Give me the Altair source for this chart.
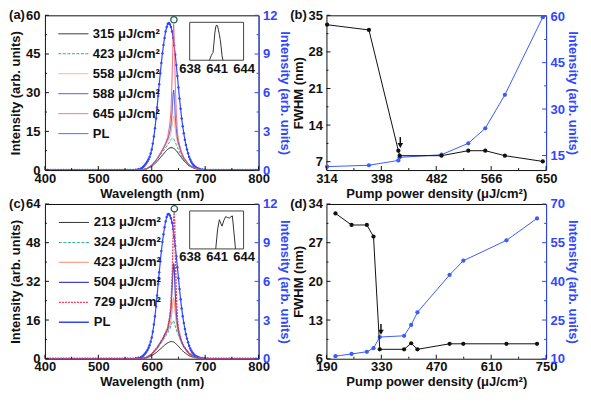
import altair as alt
import pandas as pd

FONT = "Liberation Sans"
BLUE = "#2e47ff"
BLUE_LINE = "#3d5cff"
BLACK = "#111111"

# ---------------- data: spectra (panels a, c) ----------------
WL = [400, 560, 580, 590, 600, 610, 620, 625, 630, 634, 636, 638, 639, 640, 641, 642,
      643, 644, 646, 648, 650, 655, 660, 670, 680, 690, 700, 720, 800]

A_NAMES = ["315 μJ/cm²", "423 μJ/cm²", "558 μJ/cm²", "588 μJ/cm²", "645 μJ/cm²", "PL"]
A_315 = [0, 0, 0.05, 0.4, 1.4, 3.3, 5.8, 7.0, 8.1, 8.6, 8.7, 8.65, 8.6, 8.5, 8.4, 8.3,
         8.1, 7.9, 7.5, 7.0, 6.4, 5.0, 3.6, 1.6, 0.6, 0.2, 0.05, 0, 0]
A_423 = [0, 0, 0.05, 0.5, 1.7, 4.0, 7.0, 8.4, 9.8, 11.0, 11.8, 12.3, 12.4, 12.3, 12.2, 11.8,
         11.3, 10.8, 9.8, 8.8, 7.8, 5.8, 4.0, 1.8, 0.7, 0.2, 0.05, 0, 0]
A_558 = [0, 0, 0.05, 0.5, 1.8, 4.2, 7.5, 9.2, 11.0, 13.0, 14.5, 17.0, 18.5, 20.0, 21.0, 20.0,
         18.0, 16.0, 13.0, 11.0, 9.5, 6.5, 4.3, 1.9, 0.7, 0.2, 0.05, 0, 0]
A_588 = [0, 0, 0.05, 0.5, 1.8, 4.3, 7.8, 9.8, 12.0, 15.0, 17.5, 22.0, 26.0, 29.5, 31.0, 29.0,
         25.0, 21.0, 16.0, 12.5, 10.5, 7.0, 4.6, 2.0, 0.7, 0.2, 0.05, 0, 0]
A_645 = [0, 0, 0.05, 0.5, 2.0, 4.5, 8.0, 10.0, 13.0, 18.0, 23.0, 35.0, 43.0, 52.0, 56.5, 52.0,
         43.0, 34.0, 22.0, 15.0, 11.5, 7.5, 5.0, 2.1, 0.8, 0.2, 0.05, 0, 0]

C_NAMES = ["213 μJ/cm²", "324 μJ/cm²", "423 μJ/cm²", "504 μJ/cm²", "729 μJ/cm²", "PL"]
C_213 = [0, 0, 0.05, 0.35, 1.2, 2.8, 4.8, 5.8, 6.6, 7.0, 7.1, 7.1, 7.05, 7.0, 6.9, 6.8,
         6.6, 6.4, 6.0, 5.6, 5.1, 3.9, 2.8, 1.2, 0.45, 0.15, 0.03, 0, 0]
C_324 = [0, 0, 0.05, 0.5, 1.8, 4.2, 7.3, 9.0, 10.8, 12.5, 13.5, 15.0, 15.5, 15.7, 15.5, 15.0,
         14.2, 13.4, 12.0, 10.8, 9.6, 7.0, 4.8, 2.0, 0.7, 0.2, 0.05, 0, 0]
C_423 = [0, 0, 0.05, 0.5, 1.8, 4.3, 7.6, 9.5, 11.5, 14.0, 16.0, 20.0, 22.5, 24.5, 25.0, 24.0,
         21.5, 19.0, 15.0, 12.5, 10.5, 7.2, 4.8, 2.0, 0.7, 0.2, 0.05, 0, 0]
C_504 = [0, 0, 0.05, 0.5, 1.9, 4.5, 8.0, 10.2, 12.5, 17.0, 21.0, 29.0, 34.0, 38.0, 39.5, 38.0,
         33.0, 27.0, 19.0, 14.5, 11.5, 7.5, 5.0, 2.1, 0.8, 0.2, 0.05, 0, 0]
C_729 = [0, 0, 0.05, 0.5, 2.0, 4.6, 8.2, 10.4, 13.0, 18.0, 23.0, 33.0, 41.0, 50.0, 58.0, 61.0,
         56.0, 45.0, 27.0, 17.0, 12.5, 7.8, 5.2, 2.2, 0.8, 0.2, 0.05, 0, 0]

PL_WL = list(range(400, 580, 5)) + list(range(580, 692, 2)) + list(range(695, 805, 5))
PL_A = [0, 0, 0, 0, 0, 0, 0, 0, 0, 0, 0, 0, 0, 0, 0, 0, 0, 0, 0, 0,
        0, 0, 0, 0, 0, 0, 0, 0, 0, 0, 0, 0, 0, 0, 0.03, 0.07,
        0.12, 0.17, 0.25, 0.34, 0.44, 0.55, 0.68, 0.84, 1.02, 1.28,
        1.60, 2.05, 2.60, 3.25, 4.00, 4.85, 5.75, 6.65, 7.50, 8.30,
        9.05, 9.70, 10.25, 10.75, 11.10, 11.35, 11.40, 11.30, 11.10, 10.75,
        10.25, 9.65, 8.95, 8.15, 7.30, 6.40, 5.55, 4.75, 4.00, 3.40,
        2.85, 2.35, 1.95, 1.60, 1.30, 1.02, 0.82, 0.65, 0.50, 0.39,
        0.30, 0.23, 0.17, 0.13, 0.10, 0.08,
        0.05, 0.03, 0.01, 0, 0, 0, 0, 0, 0, 0, 0, 0, 0, 0, 0, 0, 0, 0, 0, 0, 0, 0]
PL_C = [0, 0, 0, 0, 0, 0, 0, 0, 0, 0, 0, 0, 0, 0, 0, 0, 0, 0, 0, 0,
        0, 0, 0, 0, 0, 0, 0, 0, 0, 0, 0, 0, 0, 0, 0.03, 0.07,
        0.12, 0.17, 0.24, 0.33, 0.43, 0.55, 0.68, 0.85, 1.05, 1.32,
        1.65, 2.10, 2.65, 3.30, 4.05, 4.90, 5.80, 6.70, 7.55, 8.35,
        9.05, 9.65, 10.20, 10.65, 11.00, 11.20, 11.22, 11.10, 10.90, 10.55,
        10.05, 9.45, 8.75, 7.95, 7.10, 6.25, 5.40, 4.62, 3.90, 3.30,
        2.78, 2.30, 1.90, 1.56, 1.27, 1.00, 0.80, 0.63, 0.49, 0.38,
        0.29, 0.22, 0.17, 0.13, 0.10, 0.08,
        0.05, 0.03, 0.01, 0, 0, 0, 0, 0, 0, 0, 0, 0, 0, 0, 0, 0, 0, 0, 0, 0, 0, 0]

# circle marker above the lasing peak
A_CIRC_X, A_CIRC_Y = [641.5], [58.3]
C_CIRC_X, C_CIRC_Y = [642.3], [62.0]

# insets (normalised intensity)
INSET_TICKS = [638, 641, 644]
A_INSET_X = [640.2, 640.4, 640.5, 640.6, 640.7, 640.8, 640.9, 641.0, 641.1, 641.2, 641.3, 641.4, 641.5, 641.6, 641.7]
A_INSET_Y = [0.0, 0.12, 0.17, 0.2, 0.45, 0.72, 0.88, 0.93, 0.9, 0.8, 0.68, 0.55, 0.35, 0.12, 0.0]
C_INSET_X = [640.9, 641.1, 641.3, 641.45, 641.6, 641.8, 642.0, 642.2, 642.4, 642.6, 642.75, 642.9, 643.1]
C_INSET_Y = [0.0, 0.5, 0.77, 0.68, 0.6, 0.75, 0.85, 0.83, 0.81, 0.85, 0.87, 0.5, 0.0]

# ---------------- data: pump dependence (panels b, d) ----------------
B_PUMP = [315, 379, 424, 426, 490, 531, 557, 587, 645]
B_FWHM = [33.2, 32.2, 9.1, 8.15, 8.15, 9.1, 9.1, 8.15, 7.05]
B_INT = [11.4, 11.85, 13.4, 14.4, 15.25, 18.95, 23.8, 34.6, 59.7]
B_ARROW_X, B_ARROW_TOP, B_ARROW_HEAD = [427], [11.7], [10.1]

D_PUMP = [213, 254, 293, 310, 326, 388, 406, 422, 504, 539, 649, 727]
D_FWHM = [32.3, 30.2, 30.2, 28.1, 7.7, 7.7, 8.8, 7.7, 8.7, 8.7, 8.7, 8.7]
D_INT = [11.0, 11.85, 12.7, 14.1, 18.4, 18.9, 23.1, 28.0, 42.5, 48.0, 55.9, 64.4]
D_ARROW_X, D_ARROW_TOP, D_ARROW_HEAD = [329], [12.3], [10.8]

# ---------------- layout ----------------
W1, W2, H = 214, 220, 155
IX0, IX1, IY0, IY1 = 145, 199, 7, 45


def xticks(values, scale, length, color=BLACK):
    return alt.Chart(pd.DataFrame({"v": values})).mark_rule(color=color, strokeWidth=1).encode(
        x=alt.X("v:Q", scale=scale, axis=None), y=alt.value(H), y2=alt.value(H - length))


def yticks(values, scale, x0, x1, color=BLACK):
    return alt.Chart(pd.DataFrame({"v": values})).mark_rule(color=color, strokeWidth=1).encode(
        y=alt.Y("v:Q", scale=scale, axis=None), x=alt.value(x0), x2=alt.value(x1))


def tag_layer(tag):
    return alt.Chart(pd.DataFrame({"t": [tag]})).mark_text(
        font=FONT, fontSize=13, fontWeight="bold", color=BLACK, align="center", baseline="middle"
    ).encode(text="t:N", x=alt.value(-28), y=alt.value(0))


def right_axis(values, title):
    return alt.Axis(orient="right", values=values, title=title, labelColor=BLUE, titleColor=BLUE,
                    domain=True, domainColor=BLUE, domainWidth=1, labelPadding=4, titlePadding=1)


def spectral_panel(tag, field, names, colors, widths, dashes, spectra, pl, ymax, ymaj, ymin,
                   cx, cy, ins_x, ins_y, W):
    xs = alt.Scale(domain=[400, 800], nice=False, zero=False)
    yl = alt.Scale(domain=[0, ymax], nice=False, zero=False)
    yr = alt.Scale(domain=[0, 12], nice=False, zero=False)
    rows = []
    for name, vals in zip(names[:-1], spectra):
        for w, v in zip(WL, vals):
            rows.append({"wl": w, "I": v, field: name})
    df = pd.DataFrame(rows)
    pl_df = pd.DataFrame({"wl": PL_WL, "I": pl, field: "PL"})
    cs = alt.Scale(domain=names, range=colors)
    sw = alt.Scale(domain=names, range=widths)
    sd = alt.Scale(domain=names, range=dashes)
    legend = alt.Legend(orient="none", legendX=13, legendY=12, title=None, symbolType="stroke",
                        symbolSize=900, clipHeight=13, rowPadding=6, labelOffset=4, padding=0,
                        symbolOpacity=1, symbolStrokeWidth=1.6, labelFont=FONT, labelFontSize=13,
                        labelFontWeight="bold", labelColor=BLACK)
    spectra_layer = alt.Chart(df).mark_line(clip=True, opacity=1).encode(
        x=alt.X("wl:Q", scale=xs, axis=alt.Axis(values=[400, 500, 600, 700, 800], title="Wavelength (nm)",
                                                orient="bottom", labelPadding=2, titlePadding=2)),
        y=alt.Y("I:Q", scale=yl, axis=alt.Axis(values=ymaj, title="Intensity (arb. units)", orient="left",
                                               labelPadding=5, titlePadding=3)),
        color=alt.Color(f"{field}:N", scale=cs, legend=legend),
        strokeWidth=alt.StrokeWidth(f"{field}:N", scale=sw, legend=None),
        strokeDash=alt.StrokeDash(f"{field}:N", scale=sd, legend=None),
    )
    pl_line = alt.Chart(pl_df).mark_line(clip=True, strokeWidth=1.2, opacity=1).encode(
        x=alt.X("wl:Q", scale=xs, axis=None),
        y=alt.Y("I:Q", scale=yr, axis=right_axis([0, 3, 6, 9, 12], "Intensity (arb. units)")),
        color=alt.Color(f"{field}:N", scale=cs, legend=legend),
    )
    pl_pts = alt.Chart(pl_df).mark_circle(size=6, color=BLUE, opacity=1, clip=True).encode(
        x=alt.X("wl:Q", scale=xs, axis=None), y=alt.Y("I:Q", scale=yr, axis=None))
    circ = alt.Chart(pd.DataFrame({"x": cx, "y": cy})).mark_point(
        shape="circle", filled=False, size=40, color="#1f5e55", strokeWidth=1.3, opacity=1).encode(
        x=alt.X("x:Q", scale=xs, axis=None), y=alt.Y("y:Q", scale=yl, axis=None))
    ixs = alt.Scale(domain=[638, 644], range=[IX0, IX1], nice=False, zero=False)
    iys = alt.Scale(domain=[0, 1], range=[IY1, IY0], nice=False, zero=False)
    box = alt.Chart(pd.DataFrame({"x": [638], "x2": [644], "y": [0], "y2": [1]})).mark_rect(
        fill="white", stroke="#444444", strokeWidth=1).encode(
        x=alt.X("x:Q", scale=ixs, axis=None), x2="x2:Q",
        y=alt.Y("y:Q", scale=iys, axis=None), y2="y2:Q")
    inset = alt.Chart(pd.DataFrame({"x": ins_x, "y": ins_y})).mark_line(color="#333333", strokeWidth=1).encode(
        x=alt.X("x:Q", scale=ixs, axis=alt.Axis(orient="bottom", values=INSET_TICKS, offset=-(H - IY1),
                                                labelPadding=2, title=None, domain=False, ticks=False)),
        y=alt.Y("y:Q", scale=iys, axis=None))
    ticks = [
        xticks([400, 500, 600, 700, 800], xs, 4), xticks([450, 550, 650, 750], xs, 2),
        yticks(ymaj, yl, 0, 4), yticks(ymin, yl, 0, 2),
        yticks([0, 3, 6, 9, 12], yr, W, W - 4, BLUE), yticks([1.5, 4.5, 7.5, 10.5], yr, W, W - 2, BLUE),
    ]
    return alt.layer(pl_line, pl_pts, spectra_layer, circ, box, inset, tag_layer(tag), *ticks).resolve_scale(
        x="independent", y="independent").properties(width=W, height=H)


def pump_panel(tag, xdom, xmaj, xmin, pump, fwhm, inten, yl_dom, yl_maj, yl_min, yr_dom, yr_maj, yr_min,
               ax, atop, ahead, W):
    xs = alt.Scale(domain=xdom, nice=False, zero=False)
    yl = alt.Scale(domain=yl_dom, nice=False, zero=False)
    yr = alt.Scale(domain=yr_dom, nice=False, zero=False)
    df = pd.DataFrame({"p": pump, "f": fwhm, "i": inten})
    f_line = alt.Chart(df).mark_line(color=BLACK, strokeWidth=1).encode(
        x=alt.X("p:Q", scale=xs, axis=alt.Axis(values=xmaj, title="Pump power density (μJ/cm²)",
                                               orient="bottom", labelPadding=2, titlePadding=2)),
        y=alt.Y("f:Q", scale=yl, axis=alt.Axis(values=yl_maj, title="FWHM (nm)", orient="left",
                                               labelPadding=4, titlePadding=3)))
    f_pts = alt.Chart(df).mark_circle(size=18, color=BLACK, opacity=1).encode(
        x=alt.X("p:Q", scale=xs, axis=None), y=alt.Y("f:Q", scale=yl, axis=None))
    i_line = alt.Chart(df).mark_line(color=BLUE_LINE, strokeWidth=1).encode(
        x=alt.X("p:Q", scale=xs, axis=None),
        y=alt.Y("i:Q", scale=yr, axis=right_axis(yr_maj, "Intensity (arb. units)")))
    i_pts = alt.Chart(df).mark_circle(size=18, color=BLUE_LINE, opacity=1).encode(
        x=alt.X("p:Q", scale=xs, axis=None), y=alt.Y("i:Q", scale=yr, axis=None))
    adf = pd.DataFrame({"x": ax, "top": atop, "head": ahead})
    shaft = alt.Chart(adf).mark_rule(color=BLACK, strokeWidth=1.5).encode(
        x=alt.X("x:Q", scale=xs, axis=None), y=alt.Y("top:Q", scale=yl, axis=None), y2="head:Q")
    head = alt.Chart(adf).mark_point(shape="triangle-down", filled=True, size=32, color=BLACK, opacity=1).encode(
        x=alt.X("x:Q", scale=xs, axis=None), y=alt.Y("head:Q", scale=yl, axis=None))
    ticks = [
        xticks(xmaj, xs, 4), xticks(xmin, xs, 2),
        yticks(yl_maj, yl, 0, 4), yticks(yl_min, yl, 0, 2),
        yticks(yr_maj, yr, W, W - 4, BLUE), yticks(yr_min, yr, W, W - 2, BLUE),
    ]
    return alt.layer(i_line, i_pts, f_line, f_pts, shaft, head, tag_layer(tag), *ticks).resolve_scale(
        x="independent", y="independent").properties(width=W, height=H)


SOLID = [1, 0]
panel_a = spectral_panel(
    "(a)", "sa", A_NAMES, ["#1e1e1e", "#3aa58c", "#f6a98f", "#3b3fd0", "#ef5b74", BLUE],
    [1.0, 1.0, 2.2, 1.0, 2.4, 1.2], [SOLID, [3, 1.5], SOLID, SOLID, SOLID, SOLID],
    [A_315, A_423, A_558, A_588, A_645], PL_A, 60, [0, 15, 30, 45, 60], [7.5, 22.5, 37.5, 52.5],
    A_CIRC_X, A_CIRC_Y, A_INSET_X, A_INSET_Y, W1)

panel_c = spectral_panel(
    "(c)", "sc", C_NAMES, ["#1e1e1e", "#3cb490", "#f6a48c", "#4444c8", "#f03c62", BLUE],
    [1.0, 1.4, 2.0, 1.2, 2.2, 1.2], [SOLID, [3, 1.5], SOLID, SOLID, [2, 1], SOLID],
    [C_213, C_324, C_423, C_504, C_729], PL_C, 64, [0, 16, 32, 48, 64], [8, 24, 40, 56],
    C_CIRC_X, C_CIRC_Y, C_INSET_X, C_INSET_Y, W1)

panel_b = pump_panel(
    "(b)", [314, 650], [314, 398, 482, 566, 650], [356, 440, 524, 608],
    B_PUMP, B_FWHM, B_INT, [5.4, 35], [7, 14, 21, 28, 35], [10.5, 17.5, 24.5, 31.5],
    [10.3, 60.3], [15, 30, 45, 60], [22.5, 37.5, 52.5],
    B_ARROW_X, B_ARROW_TOP, B_ARROW_HEAD, W2)

panel_d = pump_panel(
    "(d)", [190, 750], [190, 330, 470, 610, 750], [260, 400, 540, 680],
    D_PUMP, D_FWHM, D_INT, [6, 34], [6, 13, 20, 27, 34], [9.5, 16.5, 23.5, 30.5],
    [10, 70], [10, 25, 40, 55, 70], [17.5, 32.5, 47.5, 62.5],
    D_ARROW_X, D_ARROW_TOP, D_ARROW_HEAD, W2)

chart = alt.concat(
    panel_a, panel_b, panel_c, panel_d, columns=2,
    spacing={"row": 34, "column": 68}, bounds="flush"
).resolve_scale(
    color="independent", strokeWidth="independent", strokeDash="independent"
).properties(padding={"left": 0, "top": 0, "right": 4, "bottom": 0}).configure_view(
    stroke=BLACK, strokeWidth=1
).configure_axis(
    labelFont=FONT, labelFontSize=13, labelFontWeight="bold", labelColor=BLACK,
    titleFont=FONT, titleFontSize=13, titleFontWeight="bold", titleColor=BLACK,
    ticks=False, grid=False, domain=False, labelFlush=False, labelOverlap=False, labelBound=False
)

chart.save("out.html", embed_options={"renderer": "svg", "actions": False})
